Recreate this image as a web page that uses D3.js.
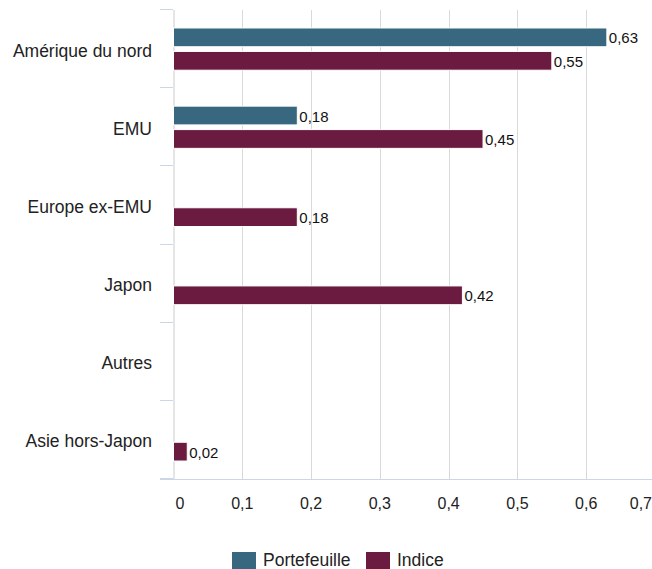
<!DOCTYPE html>
<html><head><meta charset="utf-8">
<script src="https://cdn.jsdelivr.net/npm/d3@7"></script>
<style>body{margin:0;background:#fff}svg{display:block}text{font-family:"Liberation Sans","Arimo",Helvetica,Arial,sans-serif}</style>
</head><body><svg id="c" width="652" height="569"></svg>
<script>
const categories = ["Amérique du nord","EMU","Europe ex-EMU","Japon","Autres","Asie hors-Japon"];
const seriesNames = ["Portefeuille","Indice"];
const portefeuille = [0.63,0.18,null,null,null,null];
const indice = [0.55,0.45,0.18,0.42,null,0.02];
const xTicks = [0,0.1,0.2,0.3,0.4,0.5,0.6,0.7];
const colors = ["#37687f","#6b1b40"];

(function(){
const svg = d3.select("#c");
const FONT = "Liberation Sans";
const pLeft = 173.5, pTop = 10, pBottom = 479, pRight = 655;
const x = d3.scaleLinear().domain([0,0.7]).range([pLeft,pRight]);
const y = d3.scaleBand().domain(categories).range([pTop,pBottom]).padding(0);
const bw = y.bandwidth();
const inner = d3.scaleBand().domain(seriesNames).range([bw*0.2,bw*0.8]).paddingInner(0.2).paddingOuter(0.1);
const fmt = v => d3.format(".2f")(v).replace(".", ",");
const tfmt = v => v === 0 ? "0" : d3.format(".1f")(v).replace(".", ",");
const crisp = v => Math.round(v) + 0.5;

// gridlines
svg.append("g").selectAll("line").data(xTicks.slice(1)).join("line")
  .attr("x1", d => crisp(x(d))).attr("x2", d => crisp(x(d)))
  .attr("y1", pTop).attr("y2", pBottom)
  .attr("stroke", "#d9d9d9").attr("stroke-width", 1);

// left axis line
svg.append("line").attr("x1", crisp(pLeft)-0.5).attr("x2", crisp(pLeft)-0.5)
  .attr("y1", pTop).attr("y2", pBottom).attr("stroke", "#cccccc");

// category tick marks
const bounds = categories.map(c => y(c)).concat([pBottom]);
svg.append("g").selectAll("line").data(bounds).join("line")
  .attr("x1", 160).attr("x2", 173)
  .attr("y1", d => crisp(d)-1).attr("y2", d => crisp(d)-1)
  .attr("stroke", "#ccd6eb");

// bottom axis line
svg.append("line").attr("x1", 160).attr("x2", 652)
  .attr("y1", pBottom + 0.5).attr("y2", pBottom + 0.5).attr("stroke", "#ccd6eb");

// category labels
svg.append("g").selectAll("text").data(categories).join("text")
  .attr("x", 152).attr("y", d => y(d) + bw/2 + 7.5)
  .attr("text-anchor", "end").attr("font-family", FONT).attr("font-size", "17.5px").attr("fill", "#222")
  .text(d => d);

// x tick labels
svg.append("g").selectAll("text").data(xTicks).join("text")
  .attr("x", (d,i) => i === 0 ? x(d) + 6.5 : (i === xTicks.length-1 ? 652 : x(d)))
  .attr("y", 509)
  .attr("text-anchor", (d,i) => i === xTicks.length-1 ? "end" : "middle")
  .attr("font-family", FONT).attr("font-size", "16px").attr("fill", "#222")
  .text(d => tfmt(d));

// bars
const series = [portefeuille, indice];
series.forEach((vals, si) => {
  const name = seriesNames[si];
  const data = categories.map((c,i) => ({c, v: vals[i]})).filter(d => d.v != null);
  const g = svg.append("g");
  g.selectAll("rect").data(data).join("rect")
    .attr("x", x(0)).attr("y", d => y(d.c) + inner(name))
    .attr("width", d => x(d.v) - x(0)).attr("height", inner.bandwidth())
    .attr("fill", colors[si]).attr("stroke", "#ffffff").attr("stroke-width", 1);
  g.selectAll("text").data(data).join("text")
    .attr("x", d => x(d.v) + 2)
    .attr("y", d => y(d.c) + inner(name) + inner.bandwidth()/2 + 6)
    .attr("font-family", FONT).attr("font-size", "15px").attr("fill", "#111")
    .text(d => fmt(d.v));
});

// legend
const legendX = [232, 366];
seriesNames.forEach((n, i) => {
  svg.append("rect").attr("x", legendX[i]).attr("y", 552).attr("width", 24).attr("height", 18)
    .attr("fill", colors[i]);
  svg.append("text").attr("x", legendX[i] + 31).attr("y", 566)
    .attr("font-family", FONT).attr("font-size", "17.5px").attr("fill", "#222").text(n);
});
})();
</script></body></html>
